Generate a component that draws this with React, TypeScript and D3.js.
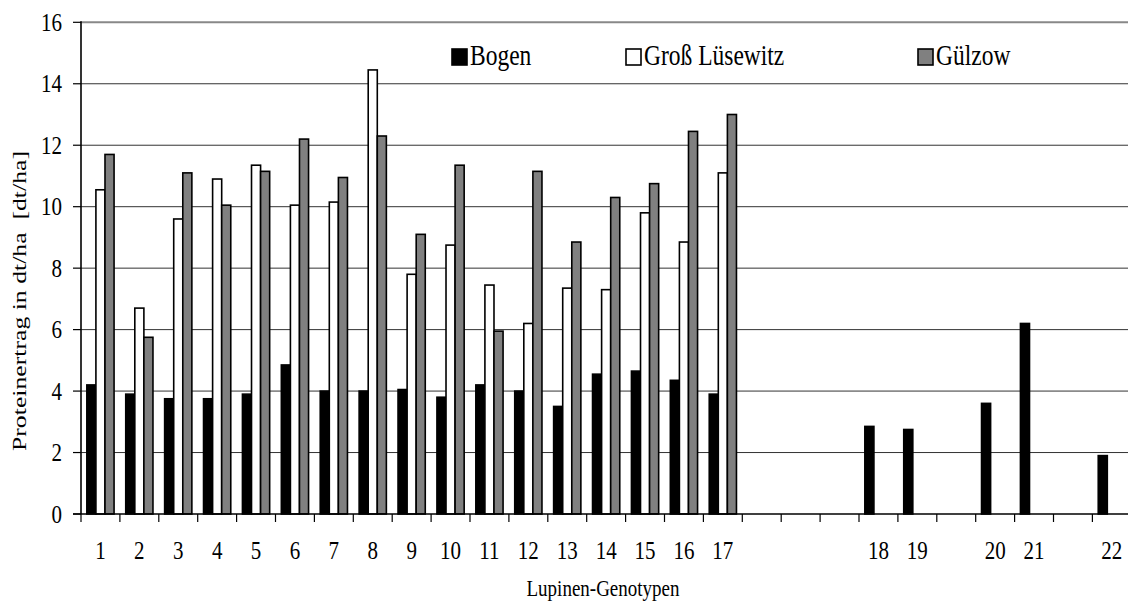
import React from "react";
import * as d3 from "d3";

// Slot labels along the x axis (empty strings are unused slots)
const slotLabels = [
  "1", "2", "3", "4", "5", "6", "7", "8", "9", "10", "11", "12", "13", "14", "15", "16", "17",
  "", "", "", "18", "19", "", "20", "21", "", "22",
];
const genotypes = [
  "1", "2", "3", "4", "5", "6", "7", "8", "9", "10", "11",
  "12", "13", "14", "15", "16", "17", "18", "19", "20", "21", "22",
];
const bogen = [4.2, 3.9, 3.75, 3.75, 3.9, 4.85, 4.0, 4.0, 4.05, 3.8, 4.2, 4.0, 3.5, 4.55, 4.65, 4.35, 3.9, 2.85, 2.75, 3.6, 6.2, 1.9];
const grossLuesewitz = [10.55, 6.7, 9.6, 10.9, 11.35, 10.05, 10.15, 14.45, 7.8, 8.75, 7.45, 6.2, 7.35, 7.3, 9.8, 8.85, 11.1, null, null, null, null, null];
const guelzow = [11.7, 5.75, 11.1, 10.05, 11.15, 12.2, 10.95, 12.3, 9.1, 11.35, 5.95, 11.15, 8.85, 10.3, 10.75, 12.45, 13.0, null, null, null, null, null];
const seriesNames = ["Bogen", "Groß Lüsewitz", "Gülzow"];
const seriesColors = ["#000000", "#ffffff", "#808080"];
const yTicks = [0, 2, 4, 6, 8, 10, 12, 14, 16];
const xTitle = "Lupinen-Genotypen";
const yTitle = "Proteinertrag in dt/ha  [dt/ha]";

const W = 1128;
const H = 604;
const FONT = "'Liberation Serif', 'Times New Roman', serif";
const STRETCH = 1.22;

function Txt(props: {
  x: number;
  y: number;
  size: number;
  anchor?: string;
  children: React.ReactNode;
}) {
  return (
    <text
      transform={`translate(${props.x},${props.y}) scale(1,${STRETCH})`}
      textAnchor={props.anchor || "start"}
      fontSize={props.size}
      fill="#000"
    >
      {props.children}
    </text>
  );
}

export default function App() {
  const left = 81;
  const slotW = 38.9;
  const right = left + slotW * slotLabels.length;
  const top = 22.3;
  const bottom = 514;

  const slotKeys = slotLabels.map((_, i) => String(i));
  const x0 = d3.scaleBand<string>().domain(slotKeys).range([left, right]).padding(0);
  const bw = x0.bandwidth();
  const gap = bw * 0.3;
  const x1 = d3.scaleBand<string>().domain(seriesNames).range([gap / 2, bw - gap / 2]).padding(0);
  const y = d3.scaleLinear().domain([0, 16]).range([bottom, top]);

  const seriesValues = [bogen, grossLuesewitz, guelzow];
  const slotOf = (g: string) => String(slotLabels.indexOf(g));

  const bars: JSX.Element[] = [];
  genotypes.forEach((g, gi) => {
    seriesNames.forEach((s, si) => {
      const v = seriesValues[si][gi];
      if (v == null) return;
      const xx = (x0(slotOf(g)) as number) + (x1(s) as number);
      bars.push(
        <rect
          key={`${g}-${s}`}
          x={xx}
          y={y(v)}
          width={x1.bandwidth()}
          height={bottom - y(v)}
          fill={seriesColors[si]}
          stroke="#000"
          strokeWidth={1.6}
        />
      );
    });
  });

  const legendSquareX = [452, 626, 918];
  const legendY = 49;
  const legendSize = 15;
  const tickFont = 21;

  return (
    <svg
      width={W}
      height={H}
      style={{ position: "absolute", left: 0, top: 0, background: "#fff" }}
      fontFamily={FONT}
    >
      <rect x={0} y={0} width={W} height={H} fill="#fff" />
      {/* gridlines */}
      {yTicks.filter((t) => t > 0 && t < 16).map((t) => (
        <line key={t} x1={left} x2={right} y1={y(t)} y2={y(t)} stroke="#333" strokeWidth={1} />
      ))}
      <line x1={left} x2={right} y1={y(16)} y2={y(16)} stroke="#888" strokeWidth={2} />
      {bars}
      {/* y axis */}
      <line x1={left} x2={left} y1={top - 1} y2={bottom} stroke="#000" strokeWidth={1.6} />
      {yTicks.map((t) => (
        <g key={t}>
          <line x1={left - 8} x2={left} y1={y(t)} y2={y(t)} stroke="#000" strokeWidth={1.2} />
          <Txt x={left - 19} y={y(t) + tickFont * 0.34 * STRETCH} size={tickFont} anchor="end">
            {t}
          </Txt>
        </g>
      ))}
      {/* x axis */}
      <line x1={left - 8} x2={right} y1={bottom} y2={bottom} stroke="#000" strokeWidth={1.6} />
      {slotKeys.map((k) => (
        <line
          key={k}
          x1={x0(k) as number}
          x2={x0(k) as number}
          y1={bottom}
          y2={bottom + 8}
          stroke="#000"
          strokeWidth={1.2}
        />
      ))}
      {slotKeys.map((k, i) => (
        <Txt key={"l" + k} x={(x0(k) as number) + bw / 2} y={559} size={tickFont} anchor="middle">
          {slotLabels[i]}
        </Txt>
      ))}
      <Txt x={603} y={596} size={19} anchor="middle">
        {xTitle}
      </Txt>
      <text
        transform={`translate(26, 301) rotate(-90)`}
        textAnchor="middle"
        fontSize={19}
        textLength={300}
        lengthAdjust="spacingAndGlyphs"
        style={{ whiteSpace: "pre" }}
      >
        {yTitle}
      </text>
      {/* legend */}
      {seriesNames.map((s, i) => (
        <g key={s}>
          <rect
            x={legendSquareX[i]}
            y={legendY}
            width={legendSize}
            height={legendSize + 1}
            fill={seriesColors[i]}
            stroke="#000"
            strokeWidth={1.6}
          />
          <Txt x={legendSquareX[i] + legendSize + 3} y={legendY + legendSize + 1} size={23.5}>
            {s}
          </Txt>
        </g>
      ))}
    </svg>
  );
}
